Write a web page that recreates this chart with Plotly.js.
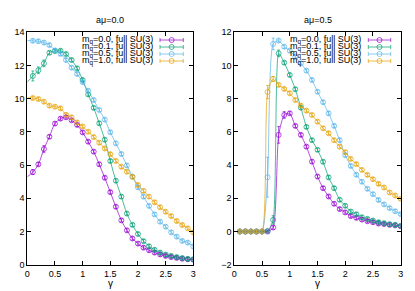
<!DOCTYPE html>
<html><head><meta charset="utf-8">
<script src="https://cdn.plot.ly/plotly-3.0.1.min.js"></script>
<style>html,body{margin:0;padding:0;background:#fff}</style>
</head><body><div id="chart" style="width:415px;height:291px"></div>
<script>
// ---- data ----
const gamma = [0.1,0.2,0.3,0.4,0.5,0.6,0.7,0.8,0.9,1.0,1.1,1.2,1.3,1.4,1.5,1.6,1.7,1.8,1.9,2.0,2.1,2.2,2.3,2.4,2.5,2.6,2.7,2.8,2.9,3.0];
const seriesNames = ["m<sub>q</sub>=0.0, full SU(3)","m<sub>q</sub>=0.1, full SU(3)","m<sub>q</sub>=0.5, full SU(3)","m<sub>q</sub>=1.0, full SU(3)"];
const panelTitles = ["aμ=0.0","aμ=0.5"];
const xTickVals = [0,0.5,1,1.5,2,2.5,3];
const xTickText = ["0","0.5","1","1.5","2","2.5","3"];

// aμ = 0.0
const mu0_mq00 = [5.58,6.05,6.97,7.71,8.50,8.80,8.88,8.70,8.42,7.97,7.41,6.81,6.05,5.24,4.37,3.49,2.67,2.07,1.58,1.27,1.03,0.87,0.73,0.62,0.53,0.46,0.41,0.36,0.33,0.30];
const mu0_mq01 = [11.37,11.71,12.13,12.77,12.87,12.89,12.69,12.33,11.83,11.13,10.26,9.45,8.52,7.53,6.25,5.06,4.10,3.08,2.40,1.85,1.42,1.11,0.90,0.73,0.61,0.53,0.46,0.40,0.35,0.33];
const mu0_mq05 = [13.49,13.46,13.38,13.23,12.91,12.70,12.33,11.87,11.49,11.00,10.48,9.92,9.32,8.74,7.98,7.31,6.67,5.98,5.30,4.66,4.10,3.54,3.03,2.59,2.29,1.95,1.69,1.43,1.33,1.10];
const mu0_mq10 = [10.04,9.98,9.82,9.58,9.52,9.42,9.03,8.88,8.57,8.33,8.01,7.69,7.35,7.00,6.66,6.25,5.90,5.60,5.30,4.80,4.45,4.10,3.76,3.46,3.19,2.93,2.63,2.39,2.19,1.95];
const mu0_lineStart = [5.3, 11.0, 13.5, 10.05];
const mu0_err_mq00 = [0.15,0.1,0.2,0.1,0.1,0.1,0.1,0.1,0.1,0.1,0.1,0.1,0.1,0.1,0.1,0.1,0.1,0.1,0.1,0.1,0.1,0.1,0.1,0.1,0.1,0.1,0.1,0.1,0.1,0.1];
const mu0_err_mq01 = [0.3,0.2,0.2,0.1,0.1,0.1,0.1,0.1,0.1,0.1,0.1,0.1,0.1,0.1,0.1,0.1,0.1,0.1,0.1,0.1,0.1,0.1,0.1,0.1,0.1,0.1,0.1,0.1,0.1,0.1];
const mu0_err_mq05 = [0.1,0.1,0.1,0.1,0.1,0.1,0.1,0.1,0.1,0.1,0.1,0.1,0.1,0.1,0.1,0.1,0.1,0.1,0.1,0.1,0.1,0.1,0.1,0.1,0.1,0.1,0.1,0.1,0.1,0.1];
const mu0_err_mq10 = [0.1,0.1,0.1,0.1,0.1,0.1,0.1,0.1,0.1,0.1,0.1,0.1,0.1,0.1,0.1,0.1,0.1,0.1,0.1,0.1,0.1,0.1,0.1,0.1,0.1,0.1,0.1,0.1,0.1,0.1];

// aμ = 0.5
const mu5_mq00 = [0,0,0,0,0,0,0.24,5.82,7.02,7.12,6.36,5.82,5.11,4.21,3.31,2.61,2.11,1.67,1.35,1.15,0.93,0.82,0.72,0.62,0.56,0.48,0.45,0.40,0.37,0.32];
const mu5_mq01 = [0,0,0,0,0,0.03,0.70,10.73,10.17,9.43,8.57,7.46,6.30,5.50,4.92,4.20,3.26,2.61,1.91,1.55,1.20,1.04,0.86,0.76,0.66,0.56,0.50,0.44,0.40,0.34];
const mu5_mq05 = [0,0,0,0,0,3.27,11.30,11.50,11.13,10.89,10.53,10.13,9.69,9.13,8.42,7.79,7.12,6.36,5.50,4.60,3.95,3.42,3.00,2.57,2.25,1.90,1.63,1.41,1.22,1.05];
const mu5_mq10 = [0,0,0,0,0,8.40,9.19,8.83,8.59,8.33,7.92,7.58,7.28,7.02,6.62,6.22,5.92,5.50,5.11,4.78,4.37,4.06,3.71,3.41,3.15,2.87,2.65,2.35,2.17,1.97];
const mu5_lineStart = [0, 0, 0, 0];
const mu5_err_mq00 = [0.05,0.05,0.05,0.05,0.05,0.05,0.1,0.5,0.2,0.1,0.1,0.1,0.1,0.1,0.1,0.1,0.1,0.1,0.1,0.1,0.1,0.1,0.1,0.1,0.1,0.1,0.1,0.1,0.1,0.1];
const mu5_err_mq01 = [0.05,0.05,0.05,0.05,0.05,0.05,0.25,0.2,0.1,0.1,0.1,0.1,0.1,0.1,0.1,0.1,0.1,0.1,0.1,0.1,0.1,0.1,0.1,0.1,0.1,0.1,0.1,0.1,0.1,0.1];
const mu5_err_mq05 = [0.05,0.05,0.05,0.05,0.05,1.2,0.35,0.1,0.1,0.1,0.1,0.1,0.1,0.1,0.1,0.1,0.1,0.1,0.1,0.1,0.1,0.1,0.1,0.1,0.1,0.1,0.1,0.1,0.1,0.1];
const mu5_err_mq10 = [0.05,0.05,0.05,0.05,0.05,0.4,0.15,0.1,0.1,0.1,0.1,0.1,0.1,0.1,0.1,0.1,0.1,0.1,0.1,0.1,0.1,0.1,0.1,0.1,0.1,0.1,0.1,0.1,0.1,0.1];

// ---- styling ----
const colors = ["rgba(148,0,211,0.7)","rgba(0,158,115,0.7)","rgba(86,180,233,0.7)","rgba(230,159,0,0.7)"];
const W = 415, H = 291;
const FONT = "Liberation Sans, Arial, sans-serif";
const px = v => v / W, py = v => 1 - v / H;

const panels = [
  {vals:[mu0_mq00,mu0_mq01,mu0_mq05,mu0_mq10], errs:[mu0_err_mq00,mu0_err_mq01,mu0_err_mq05,mu0_err_mq10], start:mu0_lineStart, xa:'x', ya:'y', smooth:1.0},
  {vals:[mu5_mq00,mu5_mq01,mu5_mq05,mu5_mq10], errs:[mu5_err_mq00,mu5_err_mq01,mu5_err_mq05,mu5_err_mq10], start:mu5_lineStart, xa:'x2', ya:'y2', smooth:0.6}
];

const traces = [];
panels.forEach(p => {
  p.vals.forEach((v, i) => {
    traces.push({x:[0].concat(gamma), y:[p.start[i]].concat(v), xaxis:p.xa, yaxis:p.ya, mode:'lines',
      line:{color:colors[i], width:1, shape:'spline', smoothing:p.smooth}, showlegend:false, hoverinfo:'skip'});
  });
  p.vals.forEach((v, i) => {
    traces.push({x:gamma, y:v, xaxis:p.xa, yaxis:p.ya, mode:'markers',
      marker:{symbol:'circle-open', size:5, color:colors[i], line:{width:1, color:colors[i]}},
      error_y:{type:'data', array:p.errs[i], visible:true, color:colors[i], thickness:1, width:1.5},
      showlegend:false});
  });
});

const axisCommon = {showline:true, mirror:'ticks', linecolor:'#000', linewidth:1, ticks:'inside', ticklen:4,
  tickcolor:'#000', showgrid:false, zeroline:false, tickfont:{family:FONT, size:9, color:'#000'}};
const ydom = [1 - 264.7/H, 1 - 32.3/H];

const annotations = [], shapes = [];
const panelGeom = [{cx:110, textRight:155, s0:160, s1:183.3}, {cx:317.5, textRight:363, s0:368.3, s1:390.7}];
const rowY = [40, 47, 54, 61];
panelGeom.forEach((g, k) => {
  annotations.push({xref:'paper', yref:'paper', x:px(g.cx), y:py(20), text:panelTitles[k], showarrow:false,
    font:{family:FONT, size:9, color:'#000'}, xanchor:'center', yanchor:'middle'});
  annotations.push({xref:'paper', yref:'paper', x:px(g.cx), y:py(283), text:'γ', showarrow:false,
    font:{family:FONT, size:10, color:'#000'}, xanchor:'center', yanchor:'middle'});
  seriesNames.forEach((n, i) => {
    const yy = rowY[i];
    annotations.push({xref:'paper', yref:'paper', x:px(g.textRight), y:py(yy), text:n, showarrow:false,
      font:{family:FONT, size:9, color:'#000'}, xanchor:'right', yanchor:'middle'});
    shapes.push({type:'line', xref:'paper', yref:'paper', x0:px(g.s0), x1:px(g.s1), y0:py(yy), y1:py(yy), line:{color:colors[i], width:1}});
    shapes.push({type:'line', xref:'paper', yref:'paper', x0:px(g.s0), x1:px(g.s0), y0:py(yy-2), y1:py(yy+2), line:{color:colors[i], width:1}});
    shapes.push({type:'line', xref:'paper', yref:'paper', x0:px(g.s1), x1:px(g.s1), y0:py(yy-2), y1:py(yy+2), line:{color:colors[i], width:1}});
    const cxp = (g.s0 + g.s1)/2;
    shapes.push({type:'circle', xref:'paper', yref:'paper', x0:px(cxp-2.5), x1:px(cxp+2.5), y0:py(yy-2.5), y1:py(yy+2.5), line:{color:colors[i], width:1}});
  });
});

const layout = {
  width:W, height:H, margin:{l:0,r:0,t:0,b:0}, paper_bgcolor:'#fff', plot_bgcolor:'#fff', showlegend:false,
  xaxis: Object.assign({}, axisCommon, {domain:[27.3/W, 193.3/W], range:[0,3], tickvals:xTickVals, ticktext:xTickText, anchor:'y'}),
  yaxis: Object.assign({}, axisCommon, {domain:ydom, range:[0,14], dtick:2, tick0:0, anchor:'x'}),
  xaxis2: Object.assign({}, axisCommon, {domain:[234.3/W, 400.7/W], range:[0,3], tickvals:xTickVals, ticktext:xTickText, anchor:'y2'}),
  yaxis2: Object.assign({}, axisCommon, {domain:ydom, range:[-2,12], dtick:2, tick0:0, anchor:'x2'}),
  annotations: annotations, shapes: shapes
};
Plotly.newPlot('chart', traces, layout, {staticPlot:true, displayModeBar:false});
</script>
</body></html>
